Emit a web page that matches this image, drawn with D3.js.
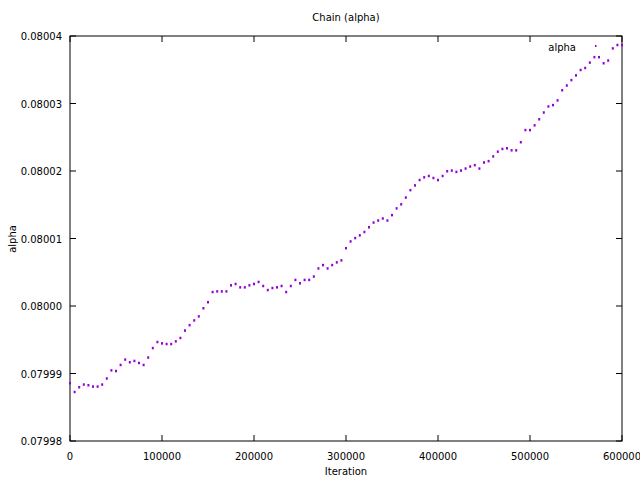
<!DOCTYPE html><html><head><meta charset="utf-8"><script src="https://cdn.jsdelivr.net/npm/d3@7"></script>
<style>body{margin:0;background:#fff}text{font-family:"DejaVu Sans",sans-serif;font-size:10px}</style></head><body>
<svg id="c" width="640" height="480"></svg>
<script>
const iterStep = 5000;
const alphaVals = [0.0799886,0.0799873,0.079988,0.0799884,0.0799883,0.0799881,0.0799881,0.0799884,0.0799893,0.0799905,
0.0799904,0.0799913,0.0799921,0.0799917,0.0799919,0.0799916,0.0799913,0.0799924,0.0799938,0.0799947,
0.0799945,0.0799944,0.0799944,0.0799948,0.0799953,0.0799964,0.0799972,0.0799979,0.0799985,0.0799997,
0.0800006,0.0800021,0.0800022,0.0800022,0.0800022,0.0800031,0.0800033,0.0800028,0.0800028,0.0800031,
0.0800033,0.0800036,0.080003,0.0800024,0.0800027,0.0800028,0.080003,0.0800021,0.080003,0.0800039,
0.0800034,0.0800039,0.0800039,0.0800044,0.0800056,0.0800061,0.0800056,0.0800061,0.0800065,0.0800068,
0.0800086,0.0800096,0.0800101,0.0800105,0.080011,0.0800117,0.0800124,0.0800127,0.080013,0.0800127,
0.0800135,0.0800145,0.0800151,0.0800161,0.0800172,0.0800179,0.0800187,0.0800191,0.0800193,0.080019,
0.0800187,0.0800193,0.08002,0.0800201,0.0800199,0.0800201,0.0800204,0.0800207,0.0800209,0.0800204,
0.0800213,0.0800215,0.0800222,0.0800229,0.0800233,0.0800234,0.0800231,0.0800231,0.0800243,0.0800261,
0.0800261,0.0800268,0.0800277,0.0800287,0.0800296,0.0800298,0.0800305,0.080032,0.0800327,0.0800335,
0.0800342,0.080035,0.0800353,0.0800361,0.0800369,0.0800369,0.080036,0.0800364,0.0800382,0.0800387,0.0800387];
const xTicks = [0,100000,200000,300000,400000,500000,600000];
const yTicks = [0.07998,0.07999,0.08,0.08001,0.08002,0.08003,0.08004];
const yLabels = ["0.07998","0.07999","0.08000","0.08001","0.08002","0.08003","0.08004"];
const svg=d3.select("#c");
const L=70,R=622,T=36,B=441;
const x=d3.scaleLinear().domain([0,600000]).range([L,R]);
const y=d3.scaleLinear().domain([0.07998,0.08004]).range([B,T]);
const g=svg.append("g");
xTicks.forEach(t=>{
  g.append("line").attr("x1",x(t)).attr("x2",x(t)).attr("y1",B).attr("y2",B-6).attr("stroke","#000");
  g.append("line").attr("x1",x(t)).attr("x2",x(t)).attr("y1",T).attr("y2",T+6).attr("stroke","#000");
  g.append("text").attr("x",x(t)).attr("y",B+19).attr("text-anchor","middle").text(t);
});
yTicks.forEach((t,i)=>{
  g.append("line").attr("x1",L).attr("x2",L+6).attr("y1",y(t)).attr("y2",y(t)).attr("stroke","#000");
  g.append("line").attr("x1",R).attr("x2",R-6).attr("y1",y(t)).attr("y2",y(t)).attr("stroke","#000");
  g.append("text").attr("x",L-8).attr("y",y(t)+4).attr("text-anchor","end").text(yLabels[i]);
});
g.append("rect").attr("x",L).attr("y",T).attr("width",R-L).attr("height",B-T).attr("fill","none").attr("stroke","#000");
svg.append("text").attr("x",346).attr("y",21).attr("text-anchor","middle").text("Chain (alpha)");
svg.append("text").attr("x",346).attr("y",475).attr("text-anchor","middle").text("Iteration");
svg.append("text").attr("transform","translate(16,239) rotate(-90)").attr("text-anchor","middle").text("alpha");
svg.append("text").attr("x",576).attr("y",51).attr("text-anchor","end").text("alpha");
svg.append("rect").attr("x",595).attr("y",45).attr("width",1.5).attr("height",2).attr("fill","#9400d3");
svg.append("g").selectAll("rect").data(alphaVals).join("rect")
 .attr("x",(d,i)=>x(i*iterStep)-1).attr("y",d=>y(d)-1).attr("width",2).attr("height",2.5).attr("fill","#9400d3");
</script></body></html>
